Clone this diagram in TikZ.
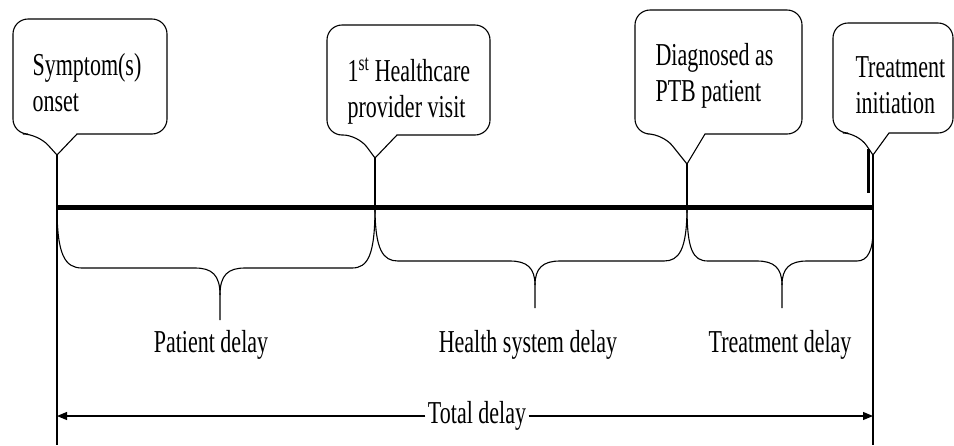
\documentclass[tikz,border=0pt]{standalone}
\usepackage{fontspec}
\setmainfont{Liberation Serif}
\usetikzlibrary{arrows.meta}
\newcommand\tallt[1]{\scalebox{1}[1.45]{#1}}
\begin{document}
\begin{tikzpicture}[x=1pt,y=-1pt,line width=1.1pt,
  txt/.style={inner sep=0pt,anchor=base west,font=\fontsize{22}{25}\selectfont},
  lbl/.style={inner sep=0pt,anchor=base,font=\fontsize{22}{25}\selectfont},
  callout/.style={draw,line width=1.1pt},
  brace/.style={draw,line width=1.1pt},
  axis/.style={line width=5pt},
  tip/.style={-{Triangle[length=10pt,width=8pt]}}]
\useasboundingbox (0,0) rectangle (954,445);
% callout texts
\node[txt] (n1) at (32,75) {\tallt{\begin{tabular}[t]{@{}l@{}}Symptom(s)\\onset\end{tabular}}};
\node[txt] (n2) at (347,81) {\tallt{\begin{tabular}[t]{@{}l@{}}1\textsuperscript{st} Healthcare\\provider visit\end{tabular}}};
\node[txt] (n3) at (655,65) {\tallt{\begin{tabular}[t]{@{}l@{}}Diagnosed as\\PTB patient\end{tabular}}};
\node[txt] (n4) at (855,77) {\tallt{\begin{tabular}[t]{@{}l@{}}Treatment\\initiation\end{tabular}}};
% callout shapes
\coordinate (t1) at (57,155);
\coordinate (t2) at (375,158);
\coordinate (t3) at (687,164);
\coordinate (t4) at (873,155);
\draw[callout] (t1) -- (77,134) [rounded corners=15pt] -- (167,134) -- (167,19) -- (13,19) -- (13,134) -- (38,134) [sharp corners] -- cycle;
\draw[callout] (t2) -- (397,135) [rounded corners=15pt] -- (490,135) -- (490,25) -- (327,25) -- (327,135) -- (358,135) [sharp corners] -- cycle;
\draw[callout] (t3) -- (705,134) [rounded corners=15pt] -- (802,134) -- (802,10) -- (635,10) -- (635,134) -- (663,134) [sharp corners] -- cycle;
\draw[callout] (t4) -- (889,133) [rounded corners=15pt] -- (953,133) -- (953,23) -- (833,23) -- (833,133) -- (858,133) [sharp corners] -- cycle;
% timeline
\coordinate (a1) at (57,207);
\coordinate (a2) at (375,207);
\coordinate (a3) at (687,207);
\coordinate (a4) at (873,207);
\coordinate (b1) at (57,445);
\coordinate (b4) at (873,445);
\draw (t1) -- (b1);
\draw (t2) -- (a2);
\draw (t3) -- (a3);
\draw (t4) -- (b4);
\draw[axis] (a1) -- (a4);
\draw[line width=3pt] (868,149) -- (868,193);
% braces
\draw[brace] (a1) .. controls (57,255) and (65,268) .. (82,268) -- (195,268) .. controls (212,268) and (220,275) .. (220,295) -- (220,320);
\draw[brace] (220,295) .. controls (220,275) and (228,268) .. (245,268) -- (352,268) .. controls (368,268) and (375,255) .. (a2);
\draw[brace] (a2) .. controls (375,250) and (383,261) .. (398,261) -- (510,261) .. controls (527,261) and (535,268) .. (535,285) -- (535,308);
\draw[brace] (535,285) .. controls (535,268) and (543,261) .. (560,261) -- (664,261) .. controls (679,261) and (687,250) .. (a3);
\draw[brace] (a3) .. controls (687,250) and (693,261) .. (708,261) -- (757,261) .. controls (774,261) and (782,268) .. (782,285) -- (782,308);
\draw[brace] (782,285) .. controls (782,268) and (790,261) .. (807,261) -- (857,261) .. controls (868,261) and (873,250) .. (873,230);
% labels
\node[lbl] (d1) at (211,352) {\tallt{Patient delay}};
\node[lbl] (d2) at (528,352) {\tallt{Health system delay}};
\node[lbl] (d3) at (780,352) {\tallt{Treatment delay}};
\node[lbl,inner xsep=2pt] (tot) at (477,423) {\tallt{Total delay}};
\coordinate (aL) at (57,416);
\coordinate (aR) at (873,416);
\draw[tip] (tot.west |- aL) -- (aL);
\draw[tip] (tot.east |- aR) -- (aR);
\end{tikzpicture}
\end{document}
